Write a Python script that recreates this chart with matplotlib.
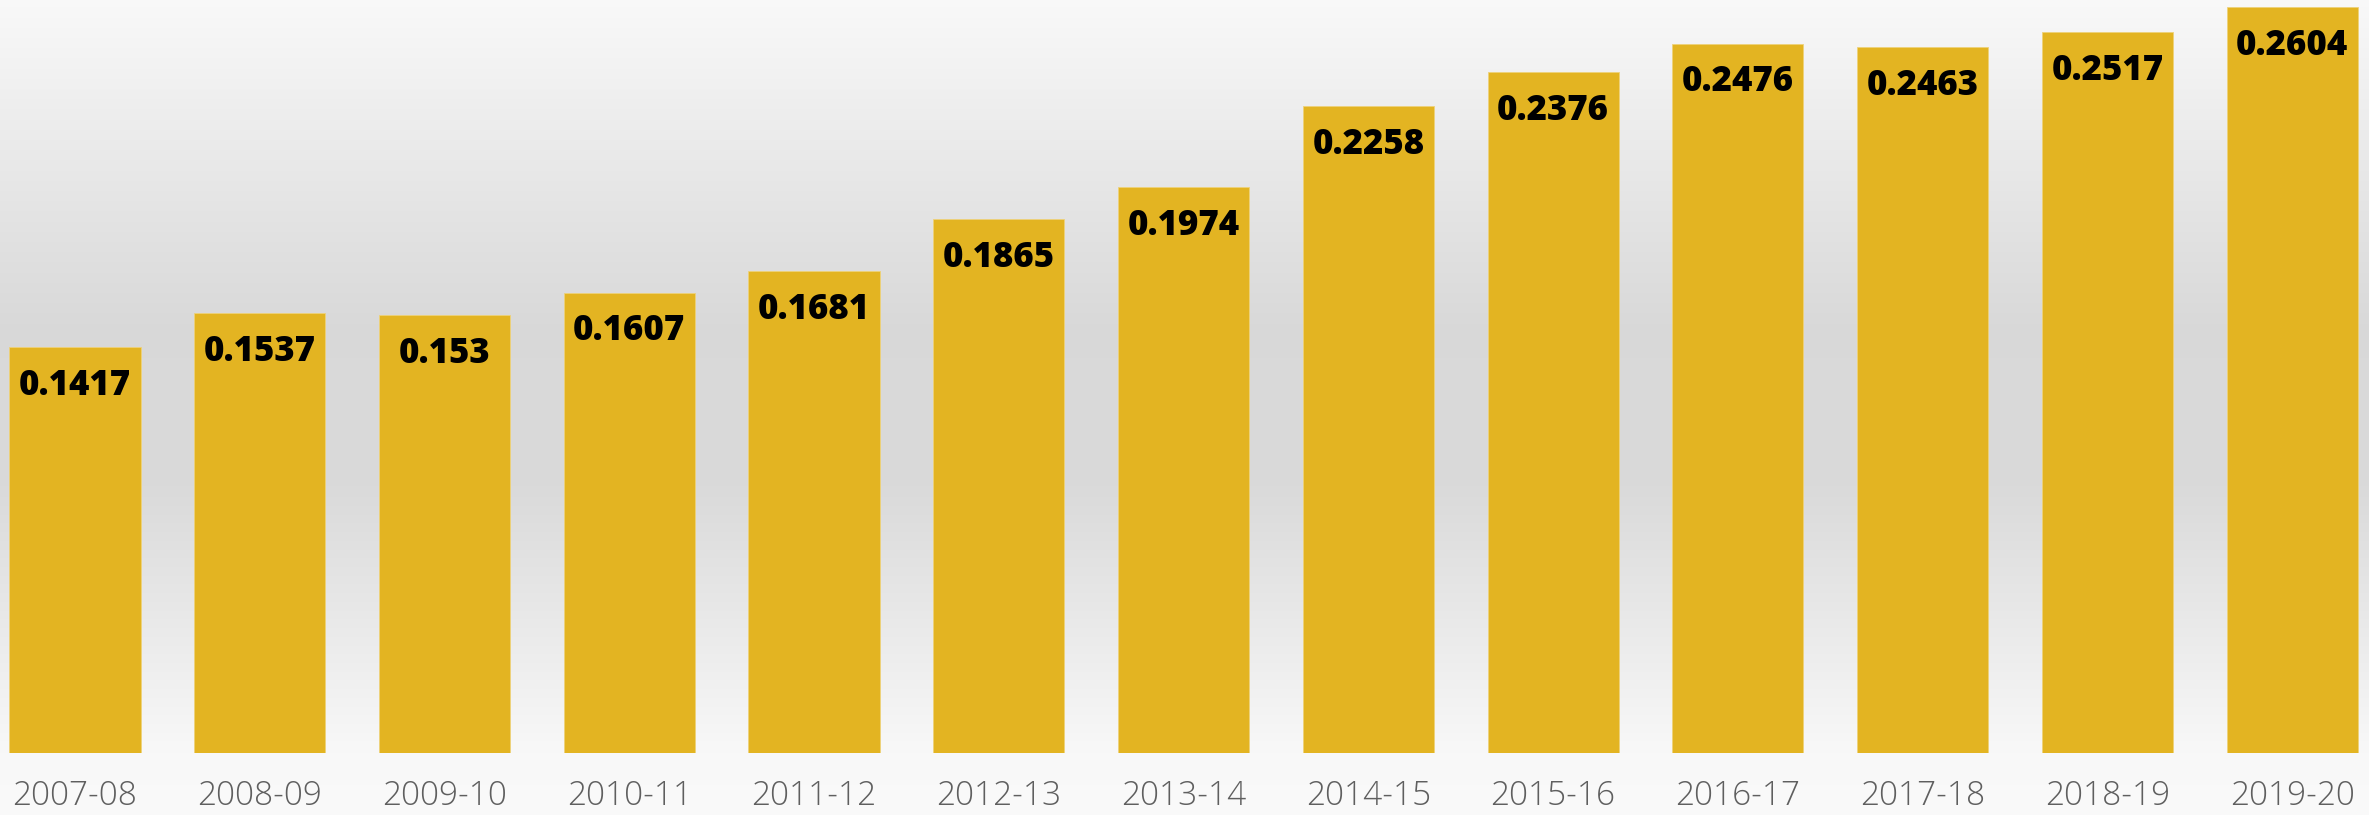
import matplotlib
matplotlib.use("Agg")
import matplotlib.pyplot as plt
import numpy as np

anos = ['2007-08', '2008-09', '2009-10', '2010-11', '2011-12', '2012-13', '2013-14',
        '2014-15', '2015-16', '2016-17', '2017-18', '2018-19', '2019-20']
valores = [0.1417, 0.1537, 0.153, 0.1607, 0.1681, 0.1865, 0.1974,
           0.2258, 0.2376, 0.2476, 0.2463, 0.2517, 0.2604]
rotulos = ['0.1417', '0.1537', '0.153', '0.1607', '0.1681', '0.1865', '0.1974',
           '0.2258', '0.2376', '0.2476', '0.2463', '0.2517', '0.2604']

W, H = 2369, 815
fig = plt.figure(figsize=(W/100, H/100), dpi=100)

# fundo em degrade (claro - cinza - claro)
bg = fig.add_axes([0, 0, 1, 1])
pos = [0.0, 0.40, 0.60, 0.92, 1.0]
tons = [0.975, 0.85, 0.855, 0.972, 0.98]
g = np.interp(np.linspace(0, 1, 400), pos, tons)
img = np.repeat(g[:, None], 2, axis=1)
bg.imshow(np.dstack([img, img, img]), aspect='auto',
          extent=[0, 1, 0, 1], origin='upper', interpolation='bilinear')
bg.set_axis_off()

base = 62  # px da base
ax = fig.add_axes([0, base/H, 1, 1 - base/H])
ax.set_facecolor('none')
x = np.arange(len(anos))
ax.bar(x, valores, width=0.71, color='#E3B422', edgecolor='#EED27A', linewidth=0.6)
ax.set_xlim(-0.406, 12.416)
ax.set_ylim(0, 0.2628)
ax.set_axis_off()

for i, (v, r) in enumerate(zip(valores, rotulos)):
    ax.annotate(r, (i, v), xytext=(0, -34.5), textcoords='offset points',
                ha='center', va='baseline', fontsize=25, fontweight='heavy',
                family='Open Sans', color='#000000')
    ax.text(i, -(805 - 753) / 753, anos[i], transform=ax.get_xaxis_transform(),
            ha='center', va='baseline', fontsize=24, fontweight='light',
            family='Open Sans', color='#5f5f5f')

fig.savefig('out.png', dpi=100)
